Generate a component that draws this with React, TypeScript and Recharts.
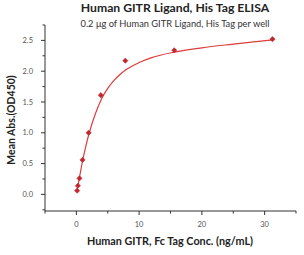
import React from "react";
import { ComposedChart, Line, Scatter, XAxis, YAxis } from "recharts";

const concentrations = [0.12, 0.24, 0.49, 0.98, 1.95, 3.9, 7.8, 15.6, 31.25];
const absorbances = [0.06, 0.14, 0.26, 0.56, 1.0, 1.61, 2.17, 2.34, 2.52];

const curveX = [0.12, 0.5, 1, 1.5, 2, 3, 4, 5, 6, 7, 8, 10, 12, 15.6, 20, 25, 31.25];
const curveY = [0.07, 0.28, 0.55, 0.78, 0.98, 1.3, 1.55, 1.72, 1.85, 1.95, 2.03, 2.14, 2.22, 2.31, 2.38, 2.44, 2.51];

const xTicks = [-5, 0, 5, 10, 15, 20, 25, 30, 35];
const xLabeled = [0, 10, 20, 30];
const yTicks = [-0.25, 0, 0.25, 0.5, 0.75, 1, 1.25, 1.5, 1.75, 2, 2.25, 2.5, 2.75];
const yLabeled = [0, 0.5, 1, 1.5, 2, 2.5];

const points = concentrations.map((c, i) => ({ x: c, y: absorbances[i] }));
const curve = curveX.map((c, i) => ({ x: c, y: curveY[i] }));

const FONT = "Lato, 'Open Sans', sans-serif";

const XTick = (props: any) => {
  const { x, y, payload } = props;
  const major = xLabeled.includes(payload.value);
  return (
    <g>
      <line x1={x} x2={x} y1={y} y2={y + (major ? 4 : 2.5)} stroke="#333" strokeWidth={1} />
      {major && (
        <text x={x} y={y + 16} textAnchor="middle" fontSize={7.5} fill="#555" fontFamily={FONT}>
          {payload.value}
        </text>
      )}
    </g>
  );
};

const YTick = (props: any) => {
  const { x, y, payload } = props;
  const major = yLabeled.includes(payload.value);
  return (
    <g>
      <line x1={x - (major ? 4 : 2.5)} x2={x} y1={y} y2={y} stroke="#333" strokeWidth={1} />
      {major && (
        <text x={x - 12} y={y + 2.7} textAnchor="end" fontSize={7.5} fill="#555" fontFamily={FONT}>
          {payload.value.toFixed(1)}
        </text>
      )}
    </g>
  );
};

const Marker = (props: any) => {
  const { cx, cy } = props;
  const s = 2.6;
  return (
    <path
      d={`M${cx},${cy - s} L${cx + s},${cy} L${cx},${cy + s} L${cx - s},${cy} Z`}
      fill="#c2272d"
      stroke="#c2272d"
      strokeWidth={0.6}
    />
  );
};

export default function App() {
  return (
    <div style={{ position: "absolute", left: 0, top: 0, width: 304, height: 255, background: "#fff" }}>
      <ComposedChart width={304} height={255} margin={{ top: 25, right: 8, bottom: 14, left: 0 }}>
        <XAxis
          type="number"
          dataKey="x"
          domain={[-5, 35]}
          ticks={xTicks}
          allowDataOverflow
          height={30}
          stroke="#333"
          tickLine={false}
          tickSize={0}
          tickMargin={0}
          tick={<XTick />}
          interval={0}
        />
        <YAxis
          type="number"
          dataKey="y"
          domain={[-0.27, 2.75]}
          ticks={yTicks}
          allowDataOverflow
          width={45}
          stroke="#333"
          tickLine={false}
          tickSize={0}
          tickMargin={0}
          tick={<YTick />}
          interval={0}
        />
        <Line
          data={curve}
          dataKey="y"
          type="monotone"
          stroke="#dc3c3c"
          strokeWidth={1.2}
          dot={false}
          isAnimationActive={false}
        />
        <Scatter data={points} dataKey="y" shape={<Marker />} isAnimationActive={false} />
      </ComposedChart>
      <svg
        width={304}
        height={255}
        style={{ position: "absolute", left: 0, top: 0, pointerEvents: "none" }}
        fontFamily={FONT}
      >
        <text x={175} y={12} textAnchor="middle" fontSize={12.2} fontWeight={700} fill="#222">
          Human GITR Ligand, His Tag ELISA
        </text>
        <text x={175} y={27} textAnchor="middle" fontSize={9.3} fill="#333">
          0.2 μg of Human GITR Ligand, His Tag per well
        </text>
        <text x={170} y={245} textAnchor="middle" fontSize={10.8} fontWeight={700} fill="#222">
          Human GITR, Fc Tag Conc. (ng/mL)
        </text>
        <text
          x={0}
          y={0}
          transform="translate(14.5,120) rotate(-90)"
          textAnchor="middle"
          fontSize={10.5}
          fontWeight={700}
          fill="#222"
        >
          Mean Abs.(OD450)
        </text>
      </svg>
    </div>
  );
}
